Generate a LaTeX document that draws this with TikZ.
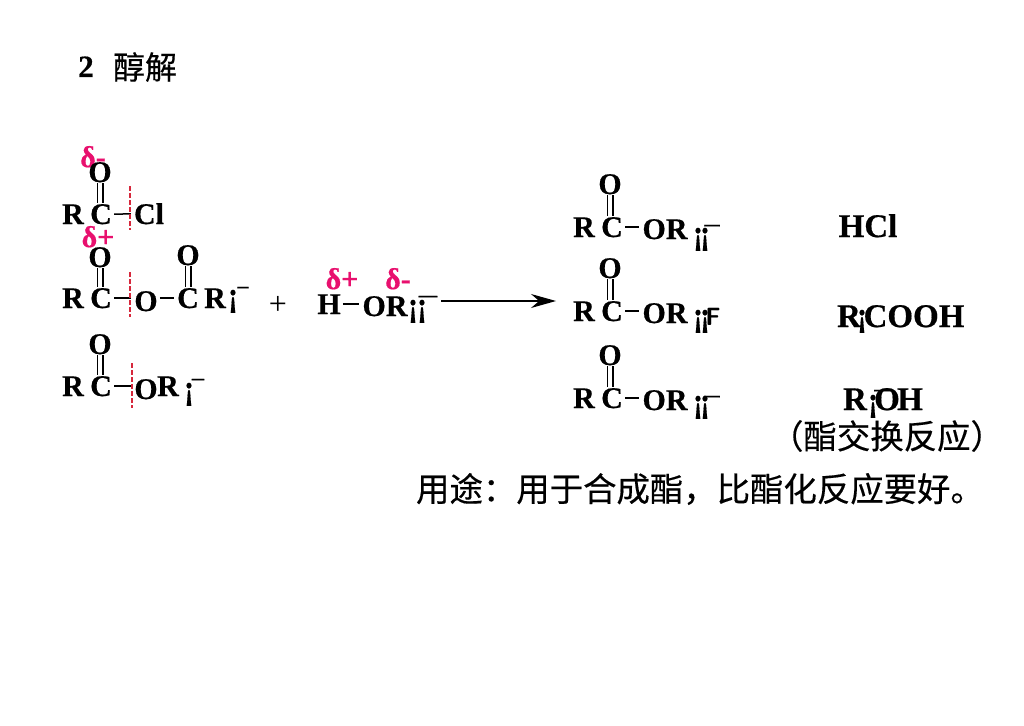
\documentclass[tikz,border=0pt]{standalone}
\usepackage{fontspec}
\setmainfont{Liberation Serif}[BoldFeatures={FakeBold=0.5}]
\newfontfamily\cjk{Noto Sans CJK SC}[FakeBold=0.4]
\usetikzlibrary{arrows.meta}
\definecolor{deltapink}{RGB}{232,16,110}
\definecolor{cutred}{RGB}{214,40,60}
\newcommand{\tallex}{\scalebox{1}[1.15]{¡}}
\newcommand{\widebar}[1]{\scalebox{#1}[1]{¯}}
\tikzset{
  chem/.style={inner sep=0pt,anchor=base,font=\fontsize{30}{30}\selectfont\bfseries},
  chembig/.style={chem,font=\fontsize{33}{33}\selectfont\bfseries},
  macron/.style={chem,font=\fontsize{20}{20}\selectfont\bfseries},
  delta/.style={chem,text=deltapink},
  bond/.style={line width=1.5pt,shorten >=3pt,shorten <=2pt},
  dbond/.style={double,double distance=4.2pt,line width=1.4pt,shorten >=1pt,shorten <=1pt},
  cut/.style={cutred,line width=1.1pt,dash pattern=on 5pt off 2pt},
  zh/.style={inner sep=0pt,font=\fontsize{33.4}{34}\selectfont\cjk}
}
\begin{document}
\begin{tikzpicture}[x=1pt,y=-1pt]
        \useasboundingbox (0,0) rectangle (1024,725);

        % Title
        \node[chem,font=\fontsize{31}{31}\selectfont\bfseries] (num) at (86,77) {2};
        \node[zh,font=\fontsize{32}{32}\selectfont\cjk] (title) at (145,67) {醇解};

        % Acid chloride
        \node[delta] (dm1) at (93,167) {δ-};
        \node[chem] (o1) at (100,182) {O};
        \node[chem] (r1) at (73,224) {R};
        \node[chem] (c1) at (101,224) {C};
        \node[chem] (cl1) at (149,224) {Cl};
        \draw[dbond] (o1) -- (o1 |- c1.north);
        \draw[bond] (c1) -- (cl1);
        \coordinate (cut1a) at (130,186);
        \coordinate (cut1b) at (130,230);
        \draw[cut] (cut1a) -- (cut1b);

        % Anhydride
        \node[delta] (dp2) at (98,247) {δ+};
        \node[chem] (o2) at (100,267) {O};
        \node[chem] (r2) at (73,308) {R};
        \node[chem] (c2) at (101,308) {C};
        \node[chem] (ob2) at (146,311) {O};
        \node[chem] (cb2) at (188,308) {C};
        \node[chem] (ot2) at (188,265) {O};
        \node[chem] (rb2) at (215,308) {R};
        \node[chem] (ex2) at (233,306) {\tallex};
        \node[macron] (ma2) at (243,302) {\widebar{1.1}};
        \draw[dbond] (o2) -- (o2 |- c2.north);
        \draw[dbond] (ot2) -- (ot2 |- cb2.north);
        \draw[bond] (c2) -- (c2 -| ob2.west);
        \draw[bond] (ob2.east |- cb2) -- (cb2);
        \coordinate (cut2a) at (130,272);
        \coordinate (cut2b) at (130,317);
        \draw[cut] (cut2a) -- (cut2b);

        % Ester
        \node[chem] (o3) at (100,354) {O};
        \node[chem] (r3) at (73,396) {R};
        \node[chem] (c3) at (101,396) {C};
        \node[chem] (ob3) at (146,399) {O};
        \node[chem] (rb3) at (168,396) {R};
        \node[chem] (ex3) at (189,399) {\tallex};
        \node[macron] (ma3) at (198,394) {\widebar{1.2}};
        \draw[dbond] (o3) -- (o3 |- c3.north);
        \draw[bond] (c3) -- (c3 -| ob3.west);
        \coordinate (cut3a) at (132,363);
        \coordinate (cut3b) at (132,408);
        \draw[cut] (cut3a) -- (cut3b);

        % Alcohol
        \node[chem,font=\fontsize{32}{32}\selectfont] (plus) at (278,314) {+};
        \node[delta] (dph) at (342,289) {δ+};
        \node[delta] (dmo) at (398,289) {δ-};
        \node[chem] (h) at (329,314) {H};
        \node[chem] (oh) at (385,316) {OR};
        \node[chem] (ex4a) at (413,316) {\tallex};
        \node[chem] (ex4b) at (422,316) {\tallex};
        \node[macron] (ma4) at (428,311) {\widebar{1.8}};
        \draw[bond] (h) -- (h -| oh.west);

        % Reaction arrow
        \coordinate (arrowa) at (441,301);
        \coordinate (arrowb) at (556,301);
        \draw[line width=1.3pt,-{Stealth[length=25pt,width=14pt]}] (arrowa) -- (arrowb);

        % Products, ester column
        \node[chem] (po1) at (610,194) {O};
        \node[chem] (pr1) at (584,237) {R};
        \node[chem] (pc1) at (612,237) {C};
        \node[chem] (por1) at (665,239) {OR};
        \node[chem] (pxa1) at (698,244) {\tallex};
        \node[chem] (pxb1) at (705,244) {\tallex};
        \node[macron] (pm1) at (712,240) {\widebar{1.5}};
        \draw[dbond] (po1) -- (po1 |- pc1.north);
        \draw[bond] (pc1) -- (pc1 -| por1.west);

        \node[chem] (po2) at (610,278) {O};
        \node[chem] (pr2) at (584,321) {R};
        \node[chem] (pc2) at (612,321) {C};
        \node[chem] (por2) at (665,323) {OR};
        \node[chem] (pxa2) at (698,326) {\tallex};
        \node[chem] (pxb2) at (705,326) {\tallex};
        \node[chem,font=\fontsize{25}{25}\selectfont\sffamily\bfseries] (pm2) at (713,325) {F};
        \draw[dbond] (po2) -- (po2 |- pc2.north);
        \draw[bond] (pc2) -- (pc2 -| por2.west);

        \node[chem] (po3) at (610,365) {O};
        \node[chem] (pr3) at (584,408) {R};
        \node[chem] (pc3) at (612,408) {C};
        \node[chem] (por3) at (665,410) {OR};
        \node[chem] (pxa3) at (698,412) {\tallex};
        \node[chem] (pxb3) at (705,412) {\tallex};
        \node[macron] (pm3) at (712,411) {\widebar{1.5}};
        \draw[dbond] (po3) -- (po3 |- pc3.north);
        \draw[bond] (pc3) -- (pc3 -| por3.west);

        % Products, right column
        \node[chembig] (hcl) at (868,237) {HCl};
        \node[chembig] (rc) at (849,327) {R};
        \node[chem] (xc) at (862,326) {\tallex};
        \node[chembig] (cooh) at (914,327) {COOH};
        \node[chembig] (ra) at (855,410) {R};
        \node[chem] (xa) at (873,411) {\tallex};
        \node[chembig] (oa) at (887,410) {O};
        \node[macron] (ma) at (883,405) {\widebar{1.7}};
        \node[chembig] (ha) at (910,410) {H};

        % Notes
        \node[zh] (note) at (887,436) {（酯交换反应）};
        \node[zh] (use) at (700,489) {用途：用于合成酯，比酯化反应要好。};
\end{tikzpicture}
\end{document}
